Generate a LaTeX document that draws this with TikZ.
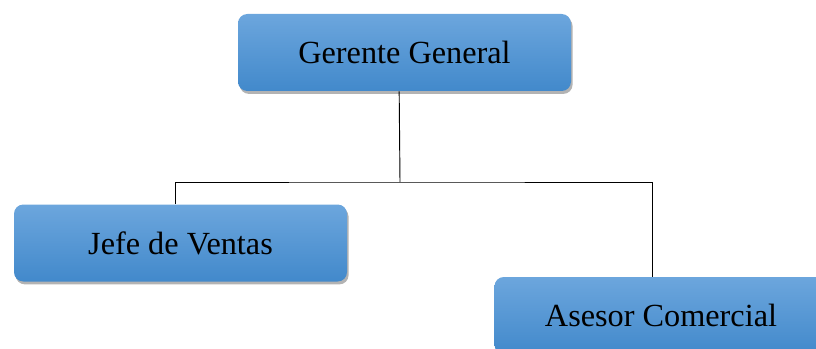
\documentclass[tikz,border=0pt]{standalone}
\usepackage{fontspec}
\setmainfont{Liberation Serif}
\usetikzlibrary{shadows}
\definecolor{cargoTop}{RGB}{108,166,221}
\definecolor{cargoBot}{RGB}{66,137,203}
\tikzset{
    cargo/.style={rounded corners=7pt,top color=cargoTop,bottom color=cargoBot,
        minimum width=333*0.75pt,minimum height=77*0.75pt,inner sep=0pt,
        font=\fontsize{24.2}{29}\selectfont,
        drop shadow={shadow xshift=1.2pt,shadow yshift=-2.2pt,opacity=0.6}}
}
\begin{document}
\begin{tikzpicture}[x=0.75pt,y=-0.75pt]
        \useasboundingbox (0,0) rectangle (816,349);
        \clip (0,0) rectangle (816,349);
        %% Gerente
        \node[cargo] (ger) at (404.5,52.5) {Gerente General};
        %% Jefe and Asesor
        \node[cargo] (jefe) at (180.5,243) {Jefe de Ventas};
        \node[cargo] (ases) at (661,315.5) {Asesor Comercial};
        %% lines
        \coordinate (hub) at (400,182);
        \draw[line width=0.7pt] ([xshift=-4pt]ger.south) -- (hub);
        \draw[line width=0.7pt] ([xshift=-4pt]jefe.north) |- (hub) -| ([xshift=-6.75pt]ases.north);
    \end{tikzpicture}
\end{document}
